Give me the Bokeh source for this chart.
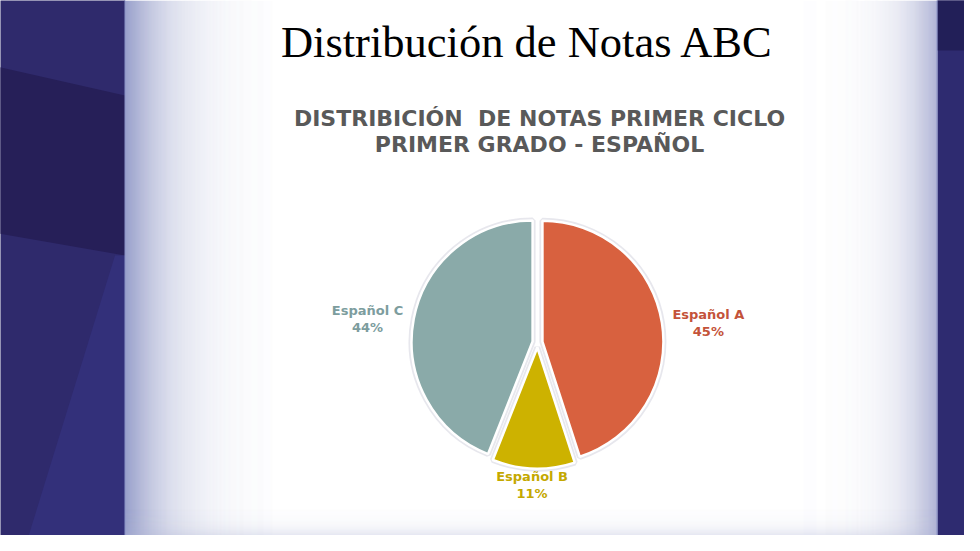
import numpy as np
from bokeh.plotting import figure
from bokeh.models import Range1d
from bokeh.core.properties import value
from bokeh.embed import file_html
from bokeh.resources import INLINE

# ---------------- data ----------------
categories = ["Español A", "Español B", "Español C"]
percentages = [45, 11, 44]
slice_colors = ["#d8613f", "#cdb200", "#8aaaa9"]
label_colors = ["#c4533a", "#c4a800", "#7d9d9e"]

main_title = "Distribución de Notas ABC"
chart_title_lines = ["DISTRIBICIÓN\u00a0 DE NOTAS PRIMER CICLO", "PRIMER GRADO - ESPAÑOL"]

# ---------------- figure ----------------
W, H = 964, 535
p = figure(width=W, height=H, x_range=Range1d(8, 8 + W), y_range=Range1d(-(8 + H), -8),
           output_backend="svg", toolbar_location=None, min_border=0,
           x_axis_location=None, y_axis_location=None)
p.grid.visible = False
p.outline_line_color = None
p.background_fill_color = "white"
p.border_fill_color = "white"

# ---------------- slide background ----------------
gx = np.arange(132, 280)
p.quad(left=gx, right=gx + 1, top=-8, bottom=-(8 + H), fill_color="#7680b9",
       fill_alpha=np.exp(-(gx - 132) / 36.0), line_color=None)
rx = np.arange(800, 945)
p.quad(left=rx, right=rx + 1, top=-8, bottom=-(8 + H), fill_color="#969cc8",
       fill_alpha=np.exp(-(944 - rx) / 26.0), line_color=None)
by = np.arange(515, 552)
p.quad(left=132, right=945, top=-by, bottom=-(by + 1), fill_color="#a8aed4",
       fill_alpha=np.exp(-(551 - by) / 8.0), line_color=None)

p.quad(left=[0, 945], right=[132.5, 990], top=[0, 0], bottom=[-560, -560],
       fill_color=["#2f2a6c", "#2e2b70"], line_color=None)
p.patches(xs=[[0, 132.5, 132.5, 0], [122.5, 132.5, 132.5, 31], [945, 990, 990, 945]],
          ys=[[-73, -103, -263, -240], [-263, -263, -560, -560], [0, 0, -58, -58]],
          fill_color=["#261f58", "#33307a", "#221f58"], line_color=None)
p.segment(x0=[132.5, 944.5], y0=[0, 0], x1=[132.5, 944.5], y1=[-560, -560],
          line_color="#8a92c6", line_width=1)

# ---------------- titles ----------------
p.text(x=[535], y=[-49], text=[main_title], text_font=value("Liberation Serif"),
       text_font_size="44.5px", text_color="black", text_align="center",
       text_baseline="alphabetic")
p.text(x=[547, 547], y=[-126, -152], text=chart_title_lines, text_font=value("DejaVu Sans"),
       text_font_style="bold", text_font_size="22px", text_color="#595959",
       text_align="center", text_baseline="alphabetic")

# ---------------- pie ----------------
vals = np.array(percentages, dtype=float) / sum(percentages)
cum = np.concatenate([[0.0], np.cumsum(vals)])
start = np.pi / 2 - 2 * np.pi * cum[:-1]
end = np.pi / 2 - 2 * np.pi * cum[1:]
mid = (start + end) / 2
cx, cy, R, explode = 545.0, -350.0, 121.0, 5.0
wx = cx + explode * np.cos(mid)
wy = cy + explode * np.sin(mid)

p.wedge(x=wx, y=wy, radius=R, start_angle=start, end_angle=end, direction="clock",
        fill_color=None, line_color="#c9cad6", line_width=6, line_alpha=0.45)
p.wedge(x=wx, y=wy, radius=R, start_angle=start, end_angle=end, direction="clock",
        fill_color=slice_colors, line_color="white", line_width=2.5)

# ---------------- labels (outside end) ----------------
hw, hh, pad = 44.0, 13.0, 3.0
lx = wx + (R + pad + hw) * np.cos(mid)
ly = wy + (R + pad + hh) * np.sin(mid)
ly = np.where(np.abs(np.sin(mid)) < 0.5, wy + (R + pad) * np.sin(mid), ly)
p.text(x=lx, y=ly + 8, text=categories, text_color=label_colors,
       text_font=value("DejaVu Sans"), text_font_style="bold", text_font_size="13px",
       text_align="center", text_baseline="alphabetic")
p.text(x=lx, y=ly - 9, text=[f"{v}%" for v in percentages], text_color=label_colors,
       text_font=value("DejaVu Sans"), text_font_style="bold", text_font_size="13px",
       text_align="center", text_baseline="alphabetic")

open("out.html", "w").write(file_html(p, INLINE))
